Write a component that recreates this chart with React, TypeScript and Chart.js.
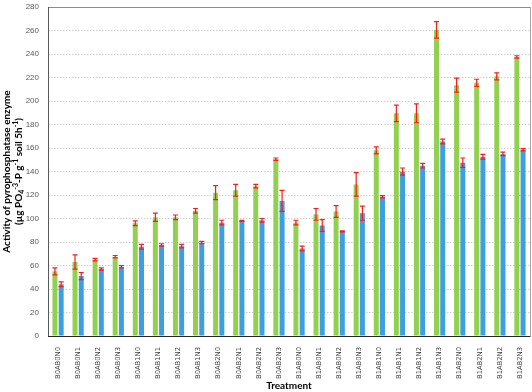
import React, { useEffect, useRef } from "react";
import { Chart, registerables } from "chart.js";

Chart.register(...registerables);

const categories = [
  "B0AB0N0", "B0AB0N1", "B0AB0N2", "B0AB0N3",
  "B0AB1N0", "B0AB1N1", "B0AB1N2", "B0AB1N3",
  "B0AB2N0", "B0AB2N1", "B0AB2N2", "B0AB2N3",
  "B1AB0N0", "B1AB0N1", "B1AB0N2", "B1AB0N3",
  "B1AB1N0", "B1AB1N1", "B1AB1N2", "B1AB1N3",
  "B1AB2N0", "B1AB2N1", "B1AB2N2", "B1AB2N3",
];

const greenValues = [55, 63, 65, 67.5, 96, 101, 101, 106.5, 122, 124, 127.5, 150.5, 96.5, 103.5, 106, 129, 158, 189.5, 189.5, 260.5, 213.5, 215.5, 221, 237.5];
const greenErrors = [3, 6, 1, 1, 2, 3.5, 2, 2, 6, 5, 1.5, 1, 2, 5, 5, 10, 3, 7, 8, 7, 6, 3, 3, 1];
const blueValues = [44, 51, 57, 59, 76, 77.5, 76.5, 79.5, 96.5, 98, 98.5, 115, 74.5, 94, 89, 104.5, 118.5, 140, 145, 165.5, 147.5, 152.5, 155, 158.5];
const blueErrors = [2, 3, 1, 1, 2, 1, 1.5, 1, 2, 0.5, 1.5, 9, 2, 5, 0.5, 6, 1, 3, 2, 2, 4, 2, 1.5, 1];

const yTicks = [0, 20, 40, 60, 80, 100, 120, 140, 160, 180, 200, 220, 240, 260, 280];
const yTitleLine1 = "Activity of pyrophosphatase enzyme";
const yTitleLine2: [string, string][] = [
  ["(µg PO", "n"], ["4", "sub"], ["-3", "sup"], ["-P g", "n"], ["-1", "sup"], [" soil 5h", "n"], ["-1", "sup"], [")", "n"],
];
const xTitle = "Treatment";

const errorBars = {
  id: "errorBars",
  afterDatasetsDraw(chart: any) {
    const ctx = chart.ctx;
    const y = chart.scales.y;
    const errs = [greenErrors, blueErrors];
    ctx.save();
    ctx.strokeStyle = "#ff1a1a";
    ctx.lineWidth = 1.2;
    chart.data.datasets.forEach((ds: any, i: number) => {
      const meta = chart.getDatasetMeta(i);
      meta.data.forEach((el: any, j: number) => {
        const v = ds.data[j];
        const e = errs[i][j];
        const top = y.getPixelForValue(v + e);
        const bot = y.getPixelForValue(v - e);
        const x = el.x;
        ctx.beginPath();
        ctx.moveTo(x, top);
        ctx.lineTo(x, bot);
        ctx.moveTo(x - 2.5, top);
        ctx.lineTo(x + 2.5, top);
        ctx.moveTo(x - 2.5, bot);
        ctx.lineTo(x + 2.5, bot);
        ctx.stroke();
      });
    });
    ctx.restore();
  },
};

const frame = {
  id: "frame",
  afterDraw(chart: any) {
    const ctx = chart.ctx;
    const a = chart.chartArea;
    ctx.save();
    ctx.lineWidth = 1;
    ctx.strokeStyle = "#8c8c8c";
    ctx.beginPath();
    ctx.moveTo(a.left, a.top + 0.5);
    ctx.lineTo(a.right + 0.5, a.top + 0.5);
    ctx.stroke();
    ctx.strokeStyle = "#a6a6a6";
    ctx.beginPath();
    ctx.moveTo(a.right + 0.5, a.top);
    ctx.lineTo(a.right + 0.5, a.bottom);
    ctx.stroke();
    ctx.strokeStyle = "#595959";
    ctx.beginPath();
    ctx.moveTo(a.left + 0.5, a.top);
    ctx.lineTo(a.left + 0.5, a.bottom);
    ctx.stroke();
    ctx.strokeStyle = "#262626";
    ctx.beginPath();
    ctx.moveTo(a.left, a.bottom + 0.5);
    ctx.lineTo(a.right + 0.5, a.bottom + 0.5);
    ctx.stroke();

    // y title
    const cy = (a.top + a.bottom) / 2;
    ctx.fillStyle = "#000";
    ctx.textBaseline = "middle";
    ctx.translate(0, cy);
    ctx.rotate(-Math.PI / 2);
    const base = 10;
    ctx.font = `bold ${base}px Lato, sans-serif`;
    ctx.textAlign = "center";
    ctx.fillText(yTitleLine1, 0, 7);
    const small = 7;
    let total = 0;
    yTitleLine2.forEach(([t, k]) => {
      ctx.font = `bold ${k === "n" ? base : small}px Lato, sans-serif`;
      total += ctx.measureText(t).width;
    });
    let x = -total / 2;
    ctx.textAlign = "left";
    yTitleLine2.forEach(([t, k]) => {
      ctx.font = `bold ${k === "n" ? base : small}px Lato, sans-serif`;
      const dy = k === "sub" ? 3 : k === "sup" ? -3.5 : 0;
      ctx.fillText(t, x, 19 + dy);
      x += ctx.measureText(t).width;
    });
    ctx.restore();
  },
};

export default function App() {
  const ref = useRef<HTMLCanvasElement>(null);
  useEffect(() => {
    document.body.style.margin = "0";
    const chart = new Chart(ref.current!, {
      type: "bar",
      data: {
        labels: categories,
        datasets: [
          {
            label: "Series 1",
            data: greenValues,
            backgroundColor: "#92d050",
            categoryPercentage: 0.62,
            barPercentage: 0.8,
          },
          {
            label: "Series 2",
            data: blueValues,
            backgroundColor: "#3e9fe0",
            categoryPercentage: 0.62,
            barPercentage: 0.8,
          },
        ],
      },
      options: {
        responsive: false,
        animation: false,
        devicePixelRatio: 1,
        layout: { padding: { top: 0, right: 2, left: 0, bottom: 0 } },
        plugins: { legend: { display: false }, tooltip: { enabled: false } },
        scales: {
          x: {
            grid: { display: false },
            border: { display: false },
            ticks: {
              autoSkip: false,
              minRotation: 90,
              maxRotation: 90,
              color: "#404040",
              font: { family: "DejaVu Sans", size: 6.8 },
              padding: 3,
            },
            title: {
              display: true,
              text: xTitle,
              color: "#000",
              font: { family: "Lato", size: 10, weight: "bold" },
              padding: { top: 0, bottom: 0 },
            },
            afterFit: (s: any) => { s.height = 56; },
          },
          y: {
            min: 0,
            max: 280,
            afterBuildTicks: (s: any) => { s.ticks = yTicks.map((v) => ({ value: v })); },
            grid: { color: "#d0d0d0", drawTicks: false },
            border: { display: false, dash: [1.5, 1.5] },
            ticks: {
              color: "#595959",
              font: { family: "Liberation Sans", size: 8 },
              padding: 9,
            },
            afterFit: (s: any) => { s.width = 48; s.paddingTop = 7; s.paddingBottom = 0; },
          },
        },
      },
      plugins: [errorBars, frame],
    });
    return () => chart.destroy();
  }, []);
  return (
    <div style={{ width: 532, height: 392 }}>
      <canvas ref={ref} width={532} height={392} />
    </div>
  );
}
